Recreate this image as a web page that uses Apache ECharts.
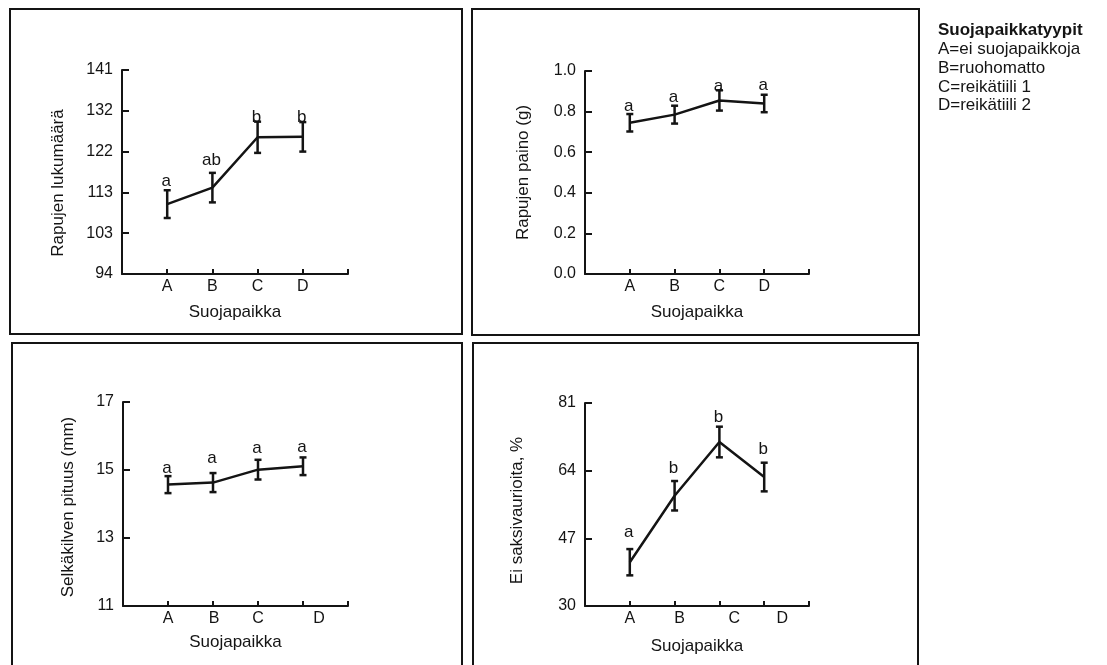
<!DOCTYPE html>
<html>
<head>
<meta charset="utf-8">
<script src="https://cdn.jsdelivr.net/npm/echarts@6/dist/echarts.min.js"></script>
<style>
html,body{margin:0;padding:0;background:#fff;}
#chart{width:1107px;height:665px;}
</style>
</head>
<body>
<div id="chart"></div>
<script>
// ---- data ----
const categories = ['A', 'B', 'C', 'D'];
const xName = 'Suojapaikka';

const countMean = [110.1, 113.9, 125.5, 125.6];
const countErr = [3.2, 3.4, 3.6, 3.4];
const countLetters = ['a', 'ab', 'b', 'b'];
const countTicks = ['94', '103', '113', '122', '132', '141'];

const weightMean = [0.745, 0.785, 0.855, 0.84];
const weightErr = [0.043, 0.044, 0.05, 0.043];
const weightLetters = ['a', 'a', 'a', 'a'];
const weightTicks = ['0.0', '0.2', '0.4', '0.6', '0.8', '1.0'];

const lengthMean = [14.57, 14.63, 15.01, 15.11];
const lengthErr = [0.25, 0.28, 0.29, 0.26];
const lengthLetters = ['a', 'a', 'a', 'a'];
const lengthTicks = ['11', '13', '15', '17'];

const clawMean = [41.0, 57.7, 71.2, 62.4];
const clawErr = [3.3, 3.7, 3.85, 3.6];
const clawLetters = ['a', 'b', 'b', 'b'];
const clawTicks = ['30', '47', '64', '81'];

const legendTitle = 'Suojapaikkatyypit';
const legendLines = ['A=ei suojapaikkoja', 'B=ruohomatto', 'C=reikätiili 1', 'D=reikätiili 2'];

// ---- layout / style ----
const FONT = '"Liberation Sans", Arial, Helvetica, sans-serif';
const INK = '#141414';
const TICK_FS = 16, NAME_FS = 17, LETTER_FS = 17, LEGEND_FS = 17;

const panels = [
  { name: 'Rapujen lukumäärä', mean: countMean, err: countErr, letters: countLetters, ticks: countTicks,
    min: 94, max: 141, interval: 9.4,
    grid: { left: 122, top: 70, width: 226, height: 204 }, nameGap: 55, namePad: [0, 22, 0, 0], xNameGap: 30,
    labelShift: [0, 0, 0, 0, 0, 0], letterGap: [0, 4, -4, -4] },
  { name: 'Rapujen paino (g)', mean: weightMean, err: weightErr, letters: weightLetters, ticks: weightTicks,
    min: 0, max: 1, interval: 0.2,
    grid: { left: 585, top: 71, width: 224, height: 203 }, nameGap: 53, namePad: [0, 0, 0, 0], xNameGap: 30,
    labelShift: [0, 0, 0, 0, 0, 0], letterGap: [-1, 0, -5, 1] },
  { name: 'Selkäkilven pituus (mm)', mean: lengthMean, err: lengthErr, letters: lengthLetters, ticks: lengthTicks,
    min: 11, max: 17, interval: 2,
    grid: { left: 123, top: 402, width: 225, height: 204 }, nameGap: 46, namePad: [0, 6, 0, 0], xNameGap: 28,
    labelShift: [0, 0, 1, 0, 16, 0], letterGap: [-1, 6, 3, 2] },
  { name: 'Ei saksivaurioita, %', mean: clawMean, err: clawErr, letters: clawLetters, ticks: clawTicks,
    min: 30, max: 81, interval: 17,
    grid: { left: 585, top: 403, width: 224, height: 203 }, nameGap: 59, namePad: [0, 12, 0, 0], xNameGap: 32,
    labelShift: [0, 0, 5, 15, 18, 0], letterGap: [8, 4, 1, 5] }
];

const xCats = [''].concat(categories, [' ']);

const option = {
  animation: false,
  backgroundColor: '#fff',
  textStyle: { fontFamily: FONT, color: INK },
  grid: [], xAxis: [], yAxis: [], series: [],
  graphic: []
};

panels.forEach(function (p, k) {
  option.grid.push(Object.assign({ containLabel: false }, p.grid));
  option.xAxis.push({
    gridIndex: k, type: 'category', data: xCats, boundaryGap: false,
    name: xName, nameLocation: 'middle', nameGap: p.xNameGap,
    nameTextStyle: { fontFamily: FONT, fontSize: NAME_FS, color: INK },
    axisLine: { lineStyle: { color: INK, width: 2 } },
    axisTick: { inside: true, length: 5, lineStyle: { color: INK, width: 2 }, alignWithLabel: true },
    axisLabel: {
      interval: 0, margin: 5, fontFamily: FONT, fontSize: TICK_FS, color: INK,
      formatter: function (v, i) {
        const s = p.labelShift[i] || 0;
        return s ? '{s' + i + '|' + v + '}' : v;
      },
      rich: (function () {
        const r = {};
        p.labelShift.forEach(function (s, i) {
          if (s) r['s' + i] = { fontFamily: FONT, fontSize: TICK_FS, color: INK, padding: [0, 0, 0, 2 * s] };
        });
        return r;
      })()
    },
    splitLine: { show: false }
  });
  option.yAxis.push({
    gridIndex: k, type: 'value', min: p.min, max: p.max, interval: p.interval,
    name: p.name, nameLocation: 'middle', nameGap: p.nameGap,
    nameTextStyle: { fontFamily: FONT, fontSize: NAME_FS, color: INK, padding: p.namePad },
    axisLine: { show: true, lineStyle: { color: INK, width: 2 } },
    axisTick: { show: true, inside: true, length: 7, lineStyle: { color: INK, width: 2 } },
    axisLabel: {
      margin: 9, fontFamily: FONT, fontSize: TICK_FS, color: INK,
      formatter: function (v, i) { return p.ticks[i] !== undefined ? p.ticks[i] : ''; }
    },
    splitLine: { show: false }
  });
  option.series.push({
    type: 'line', xAxisIndex: k, yAxisIndex: k,
    data: p.mean.map(function (v, i) { return [i + 1, v]; }),
    symbol: 'none', lineStyle: { color: INK, width: 2.5 }, z: 3
  });
  option.series.push({
    type: 'custom', xAxisIndex: k, yAxisIndex: k,
    data: p.mean.map(function (v, i) { return [i + 1, v - p.err[i], v + p.err[i]]; }),
    encode: { x: 0, y: [1, 2] },
    z: 4,
    renderItem: function (params, api) {
      const idx = params.dataIndex;
      const lo = api.coord([api.value(0), api.value(1)]);
      const hi = api.coord([api.value(0), api.value(2)]);
      const x = lo[0], cw = 3.5;
      const st = { stroke: INK, lineWidth: 2.5, fill: null };
      return {
        type: 'group',
        children: [
          { type: 'line', shape: { x1: x, y1: lo[1], x2: x, y2: hi[1] }, style: st },
          { type: 'line', shape: { x1: x - cw, y1: lo[1], x2: x + cw, y2: lo[1] }, style: st },
          { type: 'line', shape: { x1: x - cw, y1: hi[1], x2: x + cw, y2: hi[1] }, style: st },
          { type: 'text', z2: 10, style: { text: p.letters[idx], x: x - 1, y: hi[1] - p.letterGap[idx],
              align: 'center', verticalAlign: 'bottom', font: LETTER_FS + 'px ' + FONT, fill: INK } }
        ]
      };
    }
  });
});

// panel frames
const frames = [
  [10, 9, 452, 325],
  [472, 9, 447, 326],
  [12, 343, 450, 340],
  [473, 343, 445, 340]
];
frames.forEach(function (f) {
  option.graphic.push({
    type: 'rect', shape: { x: f[0], y: f[1], width: f[2], height: f[3] },
    style: { fill: null, stroke: INK, lineWidth: 2 }, silent: true, z: 0
  });
});

// legend text
option.graphic.push({
  type: 'text', left: 938, top: 22,
  style: { text: legendTitle, font: 'bold ' + LEGEND_FS + 'px ' + FONT, fill: INK }
});
legendLines.forEach(function (t, i) {
  option.graphic.push({
    type: 'text', left: 938, top: 41 + i * 18.7,
    style: { text: t, font: LEGEND_FS + 'px ' + FONT, fill: INK }
  });
});

const chart = echarts.init(document.getElementById('chart'), null, { renderer: 'canvas' });
chart.setOption(option);
</script>
</body>
</html>
